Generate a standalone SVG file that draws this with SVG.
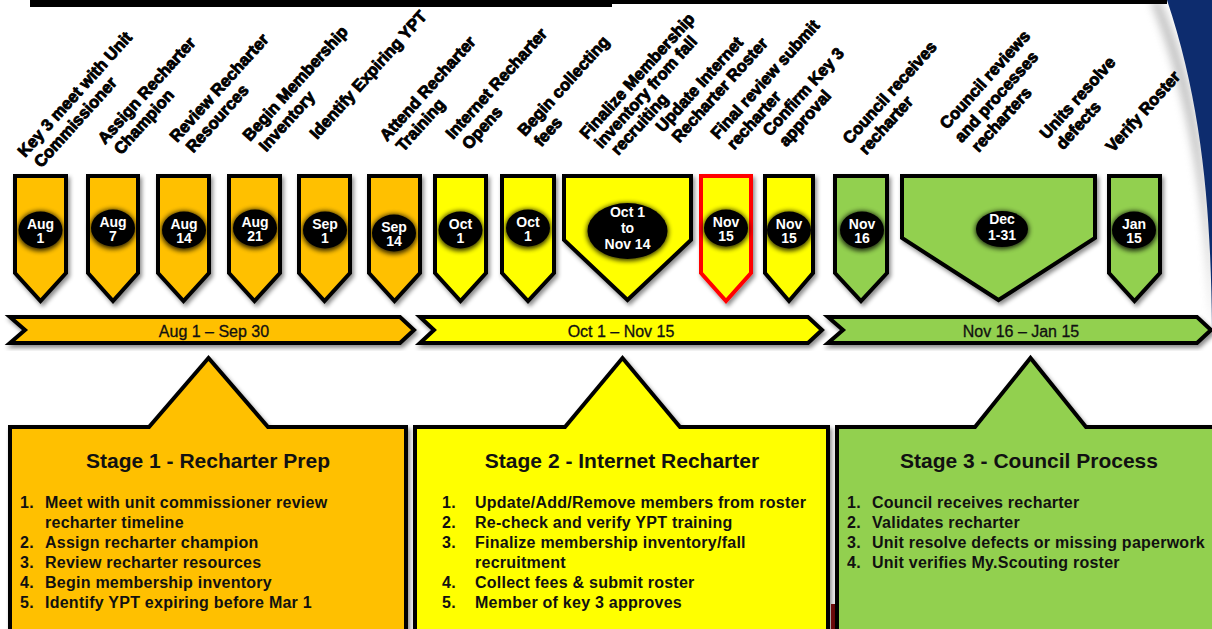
<svg xmlns="http://www.w3.org/2000/svg" width="1212" height="629" viewBox="0 0 1212 629">
<defs>
<filter id="sh" x="-20%" y="-20%" width="150%" height="150%"><feDropShadow dx="2" dy="3" stdDeviation="2" flood-color="#000" flood-opacity="0.45"/></filter>
<filter id="glow" x="-50%" y="-50%" width="200%" height="200%"><feGaussianBlur stdDeviation="2.5"/></filter>
<filter id="blur6" x="-50%" y="-20%" width="200%" height="140%"><feGaussianBlur stdDeviation="4"/></filter>
<style>
.o{fill:#FFC000}.y{fill:#FFFF00}.g{fill:#92D050}
.tab{stroke:#000;stroke-width:4;stroke-linejoin:miter;filter:url(#sh)}
.red{stroke:#FF0000}
.halo{fill:#000;opacity:0.8;filter:url(#glow)}
.dot{fill:#000}
.dt{font-family:'Liberation Sans',Arial,sans-serif;font-weight:bold;font-size:14px;fill:#fff;text-anchor:middle}
.ban{stroke:#000;stroke-width:4;stroke-linejoin:miter;filter:url(#sh)}
.bt{font-family:'Liberation Sans',Arial,sans-serif;font-size:16px;fill:#111;stroke:#111;stroke-width:0.3px;text-anchor:middle}
.box{stroke:#000;stroke-width:4;stroke-linejoin:miter;filter:url(#sh)}
.st{font-family:'Liberation Sans',Arial,sans-serif;font-weight:bold;font-size:21px;fill:#111;text-anchor:middle}
.li{font-family:'Liberation Sans',Arial,sans-serif;font-weight:bold;font-size:16px;fill:#111;letter-spacing:0.25px}
</style>
</defs>
<rect width="1212" height="629" fill="#fff"/>
<g id="header">
<path d="M1212,330 C1212,220 1205,100 1160,0 L1150,0 C1195,110 1207,230 1212,330 Z" fill="#888" opacity="0.5" filter="url(#blur6)"/>
<path d="M1167,0 L1212,0 L1212,330 C1211,220 1204,110 1167,0 Z" fill="#0D2C6E"/>
<rect x="30" y="0" width="582" height="7" fill="#000"/>
<rect x="612" y="0" width="555" height="4" fill="#000"/>
</g>
<g id="labels" font-family="'Liberation Sans', Arial, sans-serif" font-weight="bold" font-size="16.5" fill="#000" stroke="#000" stroke-width="0.9" stroke-linejoin="round">
<text transform="translate(25,158) rotate(-48)"><tspan x="0" y="0">Key 3 meet with Unit</tspan><tspan x="3" y="19">Commissioner</tspan></text>
<text transform="translate(105,145) rotate(-48)"><tspan x="0" y="0">Assign Recharter</tspan><tspan x="3" y="19">Champion</tspan></text>
<text transform="translate(177,143) rotate(-48)"><tspan x="0" y="0">Review Recharter</tspan><tspan x="3" y="19">Resources</tspan></text>
<text transform="translate(250,142) rotate(-48)"><tspan x="0" y="0">Begin Membership</tspan><tspan x="3" y="19">Inventory</tspan></text>
<text transform="translate(317,140) rotate(-48)"><tspan x="0" y="0">Identify Expiring YPT</tspan></text>
<text transform="translate(387,142) rotate(-48)"><tspan x="0" y="0">Attend Recharter</tspan><tspan x="3" y="19">Training</tspan></text>
<text transform="translate(453,140) rotate(-48)"><tspan x="0" y="0">Internet Recharter</tspan><tspan x="3" y="19">Opens</tspan></text>
<text transform="translate(525,137) rotate(-48)"><tspan x="0" y="0">Begin collecting</tspan><tspan x="3" y="19">fees</tspan></text>
<text transform="translate(587,140) rotate(-48)"><tspan x="0" y="0">Finalize Membership</tspan><tspan x="3" y="17">inventory from fall</tspan><tspan x="9" y="34">recruiting</tspan></text>
<text transform="translate(663,133) rotate(-48)"><tspan x="0" y="0">Update Internet</tspan><tspan x="3" y="19">Recharter Roster</tspan></text>
<text transform="translate(718,140) rotate(-48)"><tspan x="0" y="0">Final review submit</tspan><tspan x="3" y="19">recharter</tspan></text>
<text transform="translate(770,137) rotate(-48)"><tspan x="0" y="0">Confirm Key 3</tspan><tspan x="3" y="19">approval</tspan></text>
<text transform="translate(850,145) rotate(-48)"><tspan x="0" y="0">Council receives</tspan><tspan x="3" y="19">recharter</tspan></text>
<text transform="translate(947,130) rotate(-48)"><tspan x="0" y="0">Council reviews</tspan><tspan x="0" y="20">and processes</tspan><tspan x="4" y="39">recharters</tspan></text>
<text transform="translate(1047,140) rotate(-48)"><tspan x="0" y="0">Units resolve</tspan><tspan x="3" y="19">defects</tspan></text>
<text transform="translate(1113,153) rotate(-48)"><tspan x="0" y="0">Verify Roster</tspan></text>
</g>
<g id="tab1"><path class="tab o" d="M15,176H66V273L40.5,301L15,273Z"/><ellipse class="halo" cx="40.5" cy="231" rx="23" ry="20"/><ellipse class="dot" cx="40.5" cy="230" rx="22" ry="18.5"/><text class="dt" x="40.5" y="229">Aug</text><text class="dt" x="40.5" y="243">1</text></g>
<g id="tab2"><path class="tab o" d="M88,176H138V273L113,301L88,273Z"/><ellipse class="halo" cx="113" cy="229" rx="23" ry="20"/><ellipse class="dot" cx="113" cy="228" rx="22" ry="18.5"/><text class="dt" x="113" y="227">Aug</text><text class="dt" x="113" y="241">7</text></g>
<g id="tab3"><path class="tab o" d="M158,176H209V273L183.5,301L158,273Z"/><ellipse class="halo" cx="184" cy="231" rx="23" ry="20"/><ellipse class="dot" cx="184" cy="230" rx="22" ry="18.5"/><text class="dt" x="184" y="229">Aug</text><text class="dt" x="184" y="243">14</text></g>
<g id="tab4"><path class="tab o" d="M229,176H280V273L254.5,301L229,273Z"/><ellipse class="halo" cx="255" cy="229" rx="23" ry="20"/><ellipse class="dot" cx="255" cy="228" rx="22" ry="18.5"/><text class="dt" x="255" y="227">Aug</text><text class="dt" x="255" y="241">21</text></g>
<g id="tab5"><path class="tab o" d="M299,176H350V273L324.5,301L299,273Z"/><ellipse class="halo" cx="325" cy="231" rx="23" ry="20"/><ellipse class="dot" cx="325" cy="230" rx="22" ry="18.5"/><text class="dt" x="325" y="229">Sep</text><text class="dt" x="325" y="243">1</text></g>
<g id="tab6"><path class="tab o" d="M369,176H420V273L394.5,301L369,273Z"/><ellipse class="halo" cx="394" cy="234" rx="23" ry="20"/><ellipse class="dot" cx="394" cy="233" rx="22" ry="18.5"/><text class="dt" x="394" y="232">Sep</text><text class="dt" x="394" y="246">14</text></g>
<g id="tab7"><path class="tab y" d="M435,176H486V273L460.5,301L435,273Z"/><ellipse class="halo" cx="460.5" cy="231" rx="23" ry="20"/><ellipse class="dot" cx="460.5" cy="230" rx="22" ry="18.5"/><text class="dt" x="460.5" y="229">Oct</text><text class="dt" x="460.5" y="243">1</text></g>
<g id="tab8"><path class="tab y" d="M502,176H554V273L528,301L502,273Z"/><ellipse class="halo" cx="528" cy="229" rx="23" ry="20"/><ellipse class="dot" cx="528" cy="228" rx="22" ry="18.5"/><text class="dt" x="528" y="227">Oct</text><text class="dt" x="528" y="241">1</text></g>
<g id="tab9"><path class="tab y" d="M564,176H691V240L627.5,300L564,240Z"/><ellipse class="halo" cx="627.5" cy="232" rx="41" ry="29"/><ellipse class="dot" cx="627.5" cy="231" rx="40" ry="28"/><text class="dt" x="627.5" y="217">Oct 1</text><text class="dt" x="627.5" y="233">to</text><text class="dt" x="627.5" y="249">Nov 14</text></g>
<g id="tab10"><path class="tab y red" d="M701,176H751V273L726,301L701,273Z"/><ellipse class="halo" cx="726" cy="229" rx="23" ry="20"/><ellipse class="dot" cx="726" cy="228" rx="22" ry="18.5"/><text class="dt" x="726" y="227">Nov</text><text class="dt" x="726" y="241">15</text></g>
<g id="tab11"><path class="tab y" d="M765,176H813V273L789,301L765,273Z"/><ellipse class="halo" cx="789" cy="231" rx="23" ry="20"/><ellipse class="dot" cx="789" cy="230" rx="22" ry="18.5"/><text class="dt" x="789" y="229">Nov</text><text class="dt" x="789" y="243">15</text></g>
<g id="tab12"><path class="tab g" d="M835,176H887V273L861,301L835,273Z"/><ellipse class="halo" cx="862" cy="231" rx="23" ry="20"/><ellipse class="dot" cx="862" cy="230" rx="22" ry="18.5"/><text class="dt" x="862" y="229">Nov</text><text class="dt" x="862" y="243">16</text></g>
<g id="tab13"><path class="tab g" d="M902,176H1095V238L998.5,300L902,238Z"/><ellipse class="halo" cx="1002" cy="230" rx="27" ry="19"/><ellipse class="dot" cx="1002" cy="229" rx="26" ry="18"/><text class="dt" x="1002" y="224">Dec</text><text class="dt" x="1002" y="240">1-31</text></g>
<g id="tab14"><path class="tab g" d="M1109,176H1160V273L1134.5,301L1109,273Z"/><ellipse class="halo" cx="1134" cy="231" rx="23" ry="20"/><ellipse class="dot" cx="1134" cy="230" rx="22" ry="18.5"/><text class="dt" x="1134" y="229">Jan</text><text class="dt" x="1134" y="243">15</text></g>
<g id="banner1"><path class="ban o" d="M10,317H400L414,330L400,343H10L25,330Z"/><text class="bt" x="214" y="337">Aug 1 – Sep 30</text></g>
<g id="banner2"><path class="ban y" d="M420,317H808L822,330L808,343H420L434,330Z"/><text class="bt" x="621" y="337">Oct 1 – Nov 15</text></g>
<g id="banner3"><path class="ban g" d="M828,317H1197L1211,330L1197,343H828L843,330Z"/><text class="bt" x="1021" y="337">Nov 16 – Jan 15</text></g>
<g id="stage1"><path class="box o" d="M10,427H149L208.5,358L268,427H406V650H10Z"/>
<text class="st" x="208" y="468">Stage 1 - Recharter Prep</text>
<text class="li" x="20" y="508">1.</text><text class="li" x="45" y="508">Meet with unit commissioner review</text>
<text class="li" x="45" y="528">recharter timeline</text>
<text class="li" x="20" y="548">2.</text><text class="li" x="45" y="548">Assign recharter champion</text>
<text class="li" x="20" y="568">3.</text><text class="li" x="45" y="568">Review recharter resources</text>
<text class="li" x="20" y="588">4.</text><text class="li" x="45" y="588">Begin membership inventory</text>
<text class="li" x="20" y="608">5.</text><text class="li" x="45" y="608">Identify YPT expiring before Mar 1</text>
</g>
<g id="stage2"><path class="box y" d="M415,427H565L622.5,358L680,427H828V650H415Z"/>
<text class="st" x="622" y="468">Stage 2 - Internet Recharter</text>
<text class="li" x="442" y="508">1.</text><text class="li" x="475" y="508">Update/Add/Remove members from roster</text>
<text class="li" x="442" y="528">2.</text><text class="li" x="475" y="528">Re-check and verify YPT training</text>
<text class="li" x="442" y="548">3.</text><text class="li" x="475" y="548">Finalize membership inventory/fall</text>
<text class="li" x="475" y="568">recruitment</text>
<text class="li" x="442" y="588">4.</text><text class="li" x="475" y="588">Collect fees &amp; submit roster</text>
<text class="li" x="442" y="608">5.</text><text class="li" x="475" y="608">Member of key 3 approves</text>
</g>
<rect x="831" y="604" width="4" height="25" fill="#6B0A0A"/>
<g id="stage3"><path class="box g" d="M837,427H975L1030.5,358L1086,427H1222V650H837Z"/>
<text class="st" x="1029" y="468">Stage 3 - Council Process</text>
<text class="li" x="847" y="508">1.</text><text class="li" x="872" y="508">Council receives recharter</text>
<text class="li" x="847" y="528">2.</text><text class="li" x="872" y="528">Validates recharter</text>
<text class="li" x="847" y="548">3.</text><text class="li" x="872" y="548">Unit resolve defects or missing paperwork</text>
<text class="li" x="847" y="568">4.</text><text class="li" x="872" y="568">Unit verifies My.Scouting roster</text>
</g>
<g id="connectors"></g>
</svg>
